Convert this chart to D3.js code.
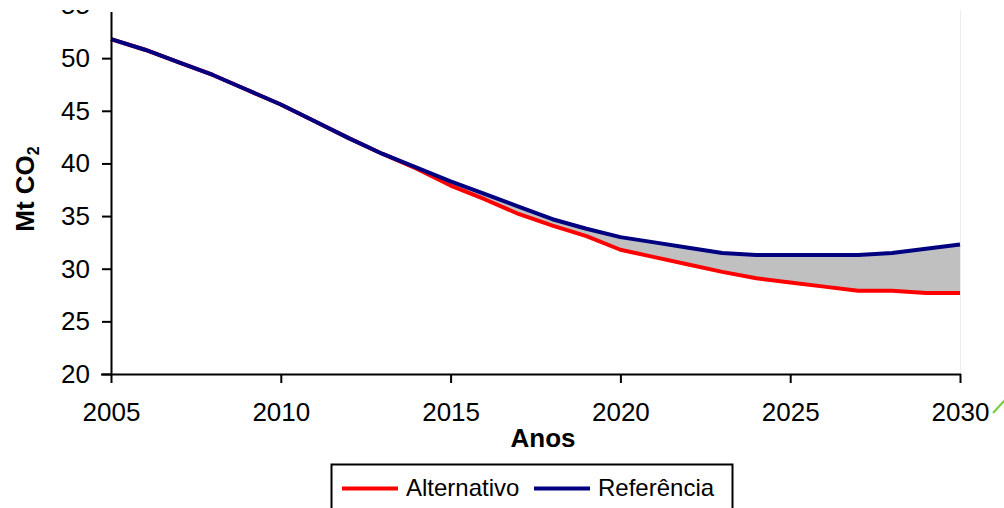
<!DOCTYPE html>
<html>
<head>
<meta charset="utf-8">
<script src="https://cdn.jsdelivr.net/npm/d3@7"></script>
<style>
  html, body { margin: 0; padding: 0; background: #fff; overflow: hidden; }
  svg { display: block; font-family: "Liberation Sans", Arial, sans-serif; }
</style>
</head>
<body>
<svg id="chart" width="1004" height="508"></svg>
<script>
// Emissões anuais (Mt CO2) por cenário
const anos = [2005, 2006, 2007, 2008, 2009, 2010, 2011, 2012, 2013, 2014, 2015, 2016, 2017,
              2018, 2019, 2020, 2021, 2022, 2023, 2024, 2025, 2026, 2027, 2028, 2029, 2030];
const referencia = [51.8, 50.8, 49.6, 48.4, 47.0, 45.6, 44.0, 42.4, 40.9, 39.6, 38.3, 37.1, 35.9,
                    34.7, 33.8, 33.0, 32.5, 32.0, 31.5, 31.3, 31.3, 31.3, 31.3, 31.5, 31.9, 32.3];
const alternativo = [51.8, 50.8, 49.6, 48.4, 47.0, 45.6, 44.0, 42.4, 40.9, 39.5, 37.9, 36.6, 35.2,
                     34.1, 33.1, 31.8, 31.1, 30.4, 29.7, 29.1, 28.7, 28.3, 27.9, 27.9, 27.7, 27.7];
const xTicks = [2005, 2010, 2015, 2020, 2025, 2030];
const yTicks = [20, 25, 30, 35, 40, 45, 50, 55];
const series = [
  { nome: "Alternativo", valores: alternativo, cor: "#ff0000" },
  { nome: "Referência", valores: referencia, cor: "#000080" }
];

const svg = d3.select("#chart");
const x = d3.scaleLinear().domain([2005, 2030]).range([111, 960]);
const y = d3.scaleLinear().domain([20, 55]).range([374, 5.5]);
const tickFont = 26;
const legendFont = 24;
const fontFamily = "Liberation Sans, Arial, sans-serif";

// faint plot-area border on the right
svg.append("line")
  .attr("x1", 960.5).attr("x2", 960.5).attr("y1", 0).attr("y2", 374)
  .attr("stroke", "#ececec").attr("stroke-width", 1);

// shaded gap between the two scenarios
const dados = anos.map((a, i) => ({ ano: a, ref: referencia[i], alt: alternativo[i] }));
svg.append("path")
  .datum(dados)
  .attr("fill", "#c0c0c0")
  .attr("d", d3.area().x(d => x(d.ano)).y0(d => y(d.alt)).y1(d => y(d.ref)));

// scenario lines
series.forEach(s => {
  svg.append("path")
    .datum(anos.map((a, i) => [a, s.valores[i]]))
    .attr("fill", "none")
    .attr("stroke", s.cor)
    .attr("stroke-width", 4)
    .attr("stroke-linejoin", "round")
    .attr("d", d3.line().x(d => x(d[0])).y(d => y(d[1])));
});

// y axis
const yAxis = svg.append("g")
  .attr("transform", "translate(111,0)")
  .call(d3.axisLeft(y).tickValues(yTicks).tickSize(9).tickPadding(12).tickSizeOuter(0));
yAxis.select(".domain").attr("d", "M0.5,12V" + y(20))
  .attr("stroke", "#000").attr("stroke-width", 2);
yAxis.selectAll(".tick line").attr("stroke", "#000").attr("stroke-width", 2);
yAxis.selectAll(".tick text")
  .attr("font-size", tickFont).attr("fill", "#000")
  .attr("font-family", fontFamily);

// x axis
const xAxis = svg.append("g")
  .attr("transform", "translate(0,374)")
  .call(d3.axisBottom(x).tickValues(xTicks).tickFormat(d3.format("d")).tickSize(9).tickPadding(20).tickSizeOuter(0));
xAxis.select(".domain").attr("d", "M101,0.5H961").attr("stroke", "#000").attr("stroke-width", 2);
xAxis.selectAll(".tick line").attr("stroke", "#000").attr("stroke-width", 2);
xAxis.selectAll(".tick text")
  .attr("font-size", tickFont).attr("fill", "#000")
  .attr("font-family", fontFamily);

// the top strip of the frame is blank
svg.append("rect")
  .attr("x", 0).attr("y", 0).attr("width", 1004).attr("height", 10)
  .attr("fill", "#fff");

// axis titles
svg.append("text")
  .attr("x", 543).attr("y", 447)
  .attr("text-anchor", "middle")
  .attr("font-size", tickFont).attr("font-weight", "bold")
  .text("Anos");

const yTitle = svg.append("text")
  .attr("transform", "translate(34,189) rotate(-90)")
  .attr("text-anchor", "middle")
  .attr("font-size", tickFont).attr("font-weight", "bold");
yTitle.append("tspan").text("Mt CO");
yTitle.append("tspan").attr("font-size", 16).attr("dy", 5).text("2");

// legend
const leg = svg.append("g");
leg.append("rect")
  .attr("x", 331.5).attr("y", 464.5).attr("width", 401).attr("height", 60)
  .attr("fill", "#fff").attr("stroke", "#000").attr("stroke-width", 2);
const legPos = [{ lx: 342, tx: 406 }, { lx: 534, tx: 598 }];
series.forEach((s, i) => {
  leg.append("line")
    .attr("x1", legPos[i].lx).attr("x2", legPos[i].lx + 56)
    .attr("y1", 488.5).attr("y2", 488.5)
    .attr("stroke", s.cor).attr("stroke-width", 4);
  leg.append("text")
    .attr("x", legPos[i].tx).attr("y", 495.5)
    .attr("font-size", legendFont)
    .text(s.nome);
});

// small green stroke at the lower right corner
svg.append("line")
  .attr("x1", 993).attr("y1", 413).attr("x2", 1005).attr("y2", 400)
  .attr("stroke", "#77cc33").attr("stroke-width", 2);
</script>
</body>
</html>
